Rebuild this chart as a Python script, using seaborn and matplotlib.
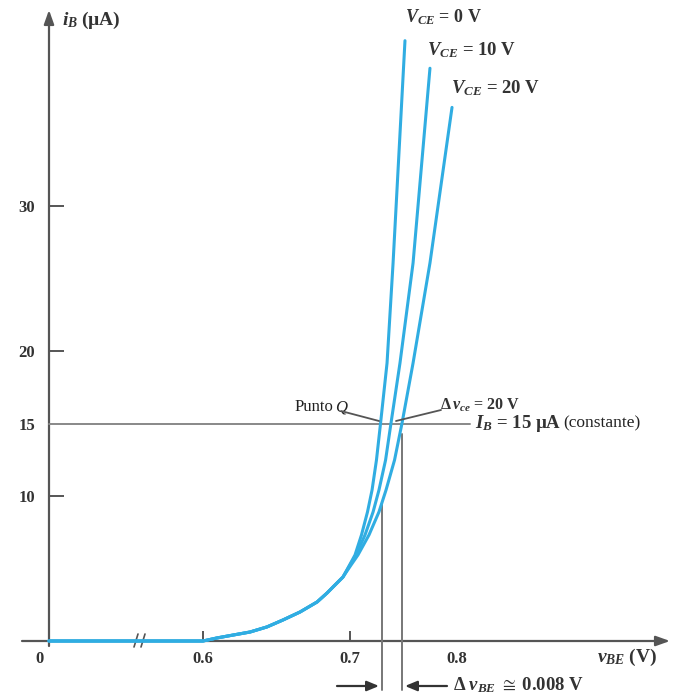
import matplotlib
matplotlib.use("Agg")
import matplotlib.pyplot as plt
import seaborn as sns
import pandas as pd

# common rising part of the input characteristic (v_BE in V, i_B in uA)
base_v = [0.4952, 0.600, 0.6095, 0.6204, 0.6320, 0.6435, 0.6544, 0.6660,
          0.6776, 0.6844, 0.6884, 0.6952]
base_i = [0.0, 0.0, 0.21, 0.41, 0.62, 0.97, 1.45, 2.0, 2.69, 3.31, 3.72, 4.41]

# the three curves after they split
vce_labels = ["0 V", "10 V", "20 V"]
split_i = [5.24, 5.93, 7.31, 8.90, 10.41, 12.48, 15.03, 19.17, 26.07]
vce0_v = [0.6997, 0.7034, 0.7078, 0.7119, 0.7150, 0.7180, 0.7208, 0.7252,
          0.7293, 0.7374]
vce0_i = split_i + [41.4]
vce10_v = [0.7000, 0.7041, 0.7102, 0.7157, 0.7197, 0.7242, 0.7279, 0.7340,
           0.7429, 0.7544]
vce10_i = split_i + [39.5]
vce20_v = [0.7007, 0.7054, 0.7129, 0.7197, 0.7245, 0.7303, 0.7354, 0.7429,
           0.7544, 0.7694]
vce20_i = split_i + [36.8]

ib_q = 15.0
dv_lines = [0.7218, 0.7354]
y_ticks = [10, 15, 20, 30]
x_ticks = [0.6, 0.7]

rows = []
for lab, vv, ii in zip(vce_labels, [vce0_v, vce10_v, vce20_v],
                       [vce0_i, vce10_i, vce20_i]):
    for v, i in zip(base_v + vv, base_i + ii):
        rows.append({"vbe": v, "ib": i, "vce": lab})
df = pd.DataFrame(rows)

sns.set_theme(style="white")
plt.rcParams["font.family"] = ["Liberation Serif", "DejaVu Serif"]
plt.rcParams["mathtext.fontset"] = "custom"
plt.rcParams["mathtext.rm"] = "Liberation Serif:bold"
plt.rcParams["mathtext.it"] = "Liberation Serif:italic:bold"
plt.rcParams["mathtext.bf"] = "Liberation Serif:bold"


# pixel -> data helpers (for placing annotations only)
def X(px):
    return 0.7 + (px - 350) / 1470


def Y(py):
    return (641 - py) / 14.5


fig = plt.figure(figsize=(6.74, 6.96), dpi=100)
ax = fig.add_axes([0, 0, 1, 1])
ax.set_xlim(X(0), X(674))
ax.set_ylim(Y(696), Y(0))

axis_c = "#555555"
text_c = "#333333"
blue = "#30ade2"

# guide lines
ax.plot([X(49), X(470)], [ib_q, ib_q], color="#888888", lw=1.4, zorder=2)
ax.plot([dv_lines[0]] * 2, [Y(690), 9.5], color="#777777", lw=1.4, zorder=2)
ax.plot([dv_lines[1]] * 2, [Y(690), 14.3], color="#777777", lw=1.4, zorder=2)

sns.lineplot(data=df, x="vbe", y="ib", hue="vce", units="vce", estimator=None,
             sort=False, palette=[blue] * 3, lw=2.2, legend=False, ax=ax, zorder=3)

# axes with arrowheads
ax.annotate("", xy=(X(670), 0), xytext=(X(22), 0),
            arrowprops=dict(arrowstyle="-|>,head_length=0.7,head_width=0.25",
                            color=axis_c, lw=1.6, shrinkA=0, shrinkB=0), zorder=1)
ax.annotate("", xy=(X(49), Y(10)), xytext=(X(49), Y(646)),
            arrowprops=dict(arrowstyle="-|>,head_length=0.7,head_width=0.25",
                            color=axis_c, lw=1.6, shrinkA=0, shrinkB=0), zorder=1)

for s in ax.spines.values():
    s.set_color("none")
ax.spines["bottom"].set_position(("data", 0))
ax.spines["left"].set_position(("data", X(49)))

ax.set_xticks(x_ticks + [X(457)])
ax.set_xticklabels(["0.6", "0.7", "0.8"], fontweight="bold")
ax.tick_params(axis="x", direction="in", length=7, width=1.4, color=axis_c,
               pad=7, labelsize=12, labelcolor=text_c, bottom=True)
ax.xaxis.get_major_ticks()[2].tick1line.set_visible(False)

ax.set_yticks(y_ticks)
ax.set_yticklabels([str(t) for t in y_ticks], fontweight="bold")
ax.tick_params(axis="y", direction="in", length=11, width=1.4, color=axis_c,
               pad=10, labelsize=12, labelcolor=text_c, left=True)
ax.yaxis.get_major_ticks()[1].tick1line.set_visible(False)
ax.set_xlabel("")
ax.set_ylabel("")

# axis break and origin
for dx in (0, 7):
    ax.plot([X(134 + dx), X(138 + dx)], [Y(647), Y(634)], color=axis_c, lw=1.2)
ax.text(X(40), Y(651), "0", ha="center", va="top", fontsize=12,
        fontweight="bold", color=text_c)

# labels
bold = dict(color=text_c, va="center", fontweight="bold")
ax.text(X(62), Y(20), r"$i_B\;$(µA)", fontsize=14, **bold)
ax.text(X(597), Y(657), r"$v_{BE}\;$(V)", fontsize=14, **bold)
ax.text(X(405), Y(17), r"$V_{CE}$ = 0 V", fontsize=13, **bold)
ax.text(X(427), Y(50), r"$V_{CE}$ = 10 V", fontsize=13.5, **bold)
ax.text(X(451), Y(88), r"$V_{CE}$ = 20 V", fontsize=13.5, **bold)

ax.text(X(333), Y(407), "Punto", fontsize=12, color="#222222",
        ha="right", va="center")
ax.text(X(335), Y(407), "Q", fontsize=12, color="#222222", fontstyle="italic",
        ha="left", va="center")
ax.plot([X(341), X(379)], [Y(411), Y(421)], color="#555555", lw=1.3, zorder=4)
ax.text(X(440), Y(405), r"$\Delta\,v_{ce}$ = 20 V", fontsize=11.5, **bold)
ax.plot([X(441), X(396)], [Y(410), Y(421)], color="#555555", lw=1.3, zorder=4)

ax.text(X(475), Y(424), r"$I_B$ = 15 µA", fontsize=13.5, **bold)
ax.text(X(563), Y(423), "(constante)", fontsize=12.5, color="#222222",
        va="center")

ax.annotate("", xy=(X(379), Y(686)), xytext=(X(337), Y(686)),
            arrowprops=dict(arrowstyle="-|>,head_length=0.6,head_width=0.25",
                            color="#333333", lw=1.6, shrinkA=0, shrinkB=0))
ax.annotate("", xy=(X(405), Y(686)), xytext=(X(447), Y(686)),
            arrowprops=dict(arrowstyle="-|>,head_length=0.6,head_width=0.25",
                            color="#333333", lw=1.6, shrinkA=0, shrinkB=0))
ax.text(X(453), Y(685), r"$\Delta\;v_{BE}\;\cong\;$0.008 V", fontsize=13.5,
        **bold)

fig.savefig("out.png", dpi=100, facecolor="white")
